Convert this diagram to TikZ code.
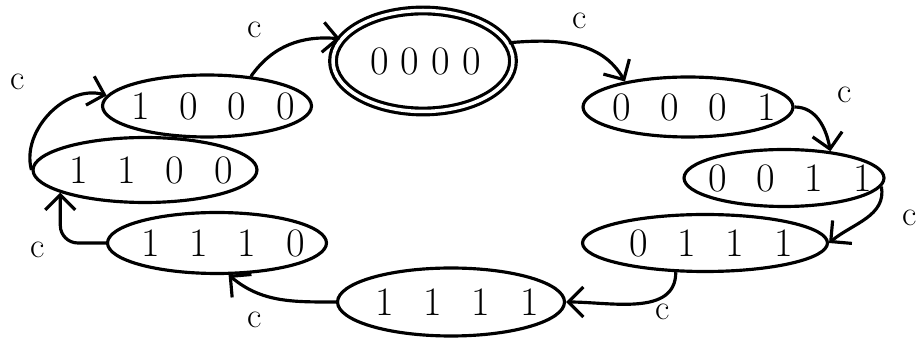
\documentclass[tikz,border=0pt]{standalone}
\usepackage{fontspec}
\setmainfont{Latin Modern Roman}
\usepackage{tikz}
\usetikzlibrary{arrows.meta,shapes.geometric}

\begin{document}
\begin{tikzpicture}[x=0.02cm,y=0.02cm,line width=1.8pt,
    >={Straight Barb[length=3mm,width=6mm]},
    st/.style={draw,ellipse,inner xsep=-3cm,inner ysep=-1cm,
      font=\fontsize{23}{25}\selectfont\addfontfeature{LetterSpace=#1},
      execute at begin node={\kern0.004\dimexpr#1em\relax}},
    st/.default=74,
    lbl/.style={font=\fontsize{20}{22}\selectfont}]
  \useasboundingbox (0,0) rectangle (919,-340);
  % states, clockwise from the start state
  \node[st=30,double,double distance=2pt,minimum width=3.6cm,minimum height=2.02cm] (s0000) at (423,-61) {0000};
  \node[st,minimum width=4.2cm,minimum height=1.2cm] (s0001) at (688,-107) {0001};
  \node[st,minimum width=4cm,minimum height=1.14cm] (s0011) at (784,-178) {0011};
  \node[st,minimum width=4.9cm,minimum height=1.14cm] (s0111) at (705,-243) {0111};
  \node[st,minimum width=4.54cm,minimum height=1.36cm] (s1111) at (451,-302) {1111};
  \node[st,minimum width=4.38cm,minimum height=1.22cm] (s1110) at (217,-243) {1110};
  \node[st,minimum width=4.48cm,minimum height=1.3cm] (s1100) at (145,-170) {1100};
  \node[st,minimum width=4.18cm,minimum height=1.24cm] (s1000) at (207,-106) {1000};
  % transitions, each on c
  \draw[->] (s0000.12) to[out=5,in=120] (s0001.158);
  \node[lbl] (c2) at (580,-21) {c};
  \draw[->] (s0001.east) to[out=0,in=100] (s0011.30);
  \node[lbl] (c3) at (845,-95) {c};
  \draw[->] (s0011.-5) to[out=-80,in=40] (s0111.east);
  \node[lbl] (c4) at (910,-218) {c};
  \draw[->] (s0111.-135) to[out=-90,in=0] (s1111.east);
  \node[lbl] (c5) at (663,-312) {c};
  \draw[->] (s1111.west) to[out=180,in=-40] (s1110.-70);
  \node[lbl] (c6) at (255,-320) {c};
  \draw[->,rounded corners=10pt] (s1110.west) -| (s1100.-165);
  \node[lbl] (c7) at (38,-250) {c};
  \draw[->] (s1100.west) to[out=105,in=164] (s1000.174);
  \node[lbl] (c8) at (18,-82) {c};
  \draw[->] (s1000.34) to[out=55,in=175] (s0000.165);
  \node[lbl] (c1) at (255,-30) {c};
\end{tikzpicture}
\end{document}
